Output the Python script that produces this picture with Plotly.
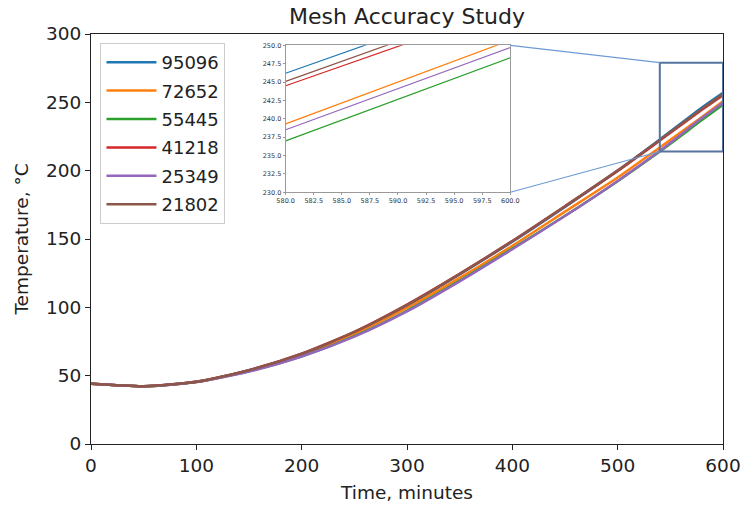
import plotly.graph_objects as go

# ---- data ----
time_min = [0, 50, 100, 150, 200, 250, 300, 350, 400, 450, 500, 540, 580, 600]
series_names = ["95096", "72652", "55445", "41218", "25349", "21802"]
t_95096 = [44, 42.2, 45.5, 54.0, 65.8, 81.5, 101.0, 124.0, 148.0, 173.5, 200.0, 222.8, 246.2, 257.0]
t_72652 = [44, 42.2, 45.4, 53.6, 65.0, 80.5, 99.5, 121.5, 145.0, 170.0, 195.0, 217.0, 239.3, 250.7]
t_55445 = [44, 42.2, 45.3, 53.2, 64.2, 79.0, 97.5, 119.5, 143.0, 167.0, 192.3, 214.0, 237.0, 248.3]
t_41218 = [44, 42.2, 45.5, 54.0, 66.0, 82.0, 102.0, 124.5, 148.5, 174.0, 199.8, 222.0, 244.5, 255.2]
t_25349 = [44, 42.2, 45.3, 53.0, 64.0, 78.5, 97.0, 119.0, 142.5, 166.8, 192.5, 214.5, 238.5, 249.7]
t_21802 = [44, 42.2, 45.5, 54.0, 66.0, 82.0, 101.8, 124.5, 148.5, 174.0, 200.2, 222.5, 245.1, 256.0]
all_series = [t_95096, t_72652, t_55445, t_41218, t_25349, t_21802]
colors = ["#1f77b4", "#ff7f0e", "#2ca02c", "#d62728", "#9467bd", "#8c564b"]

x_ticks = [0, 100, 200, 300, 400, 500, 600]
y_ticks = [0, 50, 100, 150, 200, 250, 300]
inset_x_ticks = [580.0, 582.5, 585.0, 587.5, 590.0, 592.5, 595.0, 597.5, 600.0]
inset_y_ticks = [230.0, 232.5, 235.0, 237.5, 240.0, 242.5, 245.0, 247.5, 250.0]
zoom_box = dict(x0=540, x1=600, y0=214, y1=279)

W, H = 741, 505
ML, MR, MT, MB = 91, 18, 34, 61
FONT = "DejaVu Sans"

fig = go.Figure()
for name, ys, c in zip(series_names, all_series, colors):
    fig.add_trace(go.Scatter(x=time_min, y=ys, name=name, mode="lines", legendgroup=name,
                             line=dict(color=c, width=2.5, shape="spline", smoothing=0.6),
                             xaxis="x", yaxis="y"))
for name, ys, c in zip(series_names, all_series, colors):
    fig.add_trace(go.Scatter(x=time_min, y=ys, name=name, mode="lines", legendgroup=name,
                             line=dict(color=c, width=1.2), showlegend=False,
                             xaxis="x2", yaxis="y2"))

ix_dom = [0.308, 0.6635]
iy_dom = [0.614, 0.9724]

axis_common = dict(showgrid=False, zeroline=False, showline=True, mirror=True,
                   linecolor="#222222", linewidth=1.2, ticks="outside",
                   tickcolor="#222222", ticklen=5, tickwidth=1.2, automargin=False)
inset_common = dict(showgrid=False, zeroline=False, showline=True, mirror=True,
                    linecolor="#9a9a9a", linewidth=1, ticks="outside", ticklen=2,
                    tickcolor="#9a9a9a", tickformat=".1f", automargin=False,
                    tickfont=dict(size=6.5, color="#333333"))

fig.update_layout(
    width=W, height=H,
    margin=dict(l=ML, r=MR, t=MT, b=MB, autoexpand=False),
    paper_bgcolor="white", plot_bgcolor="white",
    font=dict(family=FONT, color="#222222"),
    title=dict(text="Mesh Accuracy Study", x=0.5, xref="paper", xanchor="center",
               y=1 - 16 / H, yref="container", yanchor="middle",
               font=dict(size=22, family=FONT, color="#222222")),
    xaxis=dict(range=[0, 600], tickvals=x_ticks, domain=[0, 1],
               title=dict(text="Time, minutes", font=dict(size=18.5), standoff=10),
               tickfont=dict(size=18.5), **axis_common),
    yaxis=dict(range=[0, 300], tickvals=y_ticks, domain=[0, 1],
               title=dict(text="Temperature, °C", font=dict(size=18.5), standoff=12),
               tickfont=dict(size=18.5), **axis_common),
    xaxis2=dict(range=[580, 600], tickvals=inset_x_ticks, domain=ix_dom, anchor="y2",
                **inset_common),
    yaxis2=dict(range=[230, 250], tickvals=inset_y_ticks, domain=iy_dom, anchor="x2",
                **inset_common),
    legend=dict(x=0.015, y=0.978, xanchor="left", yanchor="top",
                bgcolor="rgba(255,255,255,0.8)", bordercolor="#cccccc", borderwidth=1,
                font=dict(size=18, family=FONT, color="#222222"),
                itemwidth=50, tracegroupgap=2),
    showlegend=True,
)

# zoom indicator rectangle on main axes
fig.add_shape(type="rect", xref="x", yref="y", **zoom_box,
              line=dict(color="#56749f", width=2), fillcolor="rgba(0,0,0,0)")

# connector lines (paper coords computed from axis ranges)
def px(v):
    return v / 600.0
def py(v):
    return v / 300.0

fig.add_shape(type="line", xref="paper", yref="paper",
              x0=ix_dom[1], y0=iy_dom[1], x1=px(zoom_box["x0"]), y1=py(zoom_box["y1"]),
              line=dict(color="#6d9bd3", width=1.2))
fig.add_shape(type="line", xref="paper", yref="paper",
              x0=ix_dom[1], y0=iy_dom[0], x1=px(zoom_box["x0"]), y1=py(zoom_box["y0"]),
              line=dict(color="#6d9bd3", width=1.2))

fig.write_html("out.html")
